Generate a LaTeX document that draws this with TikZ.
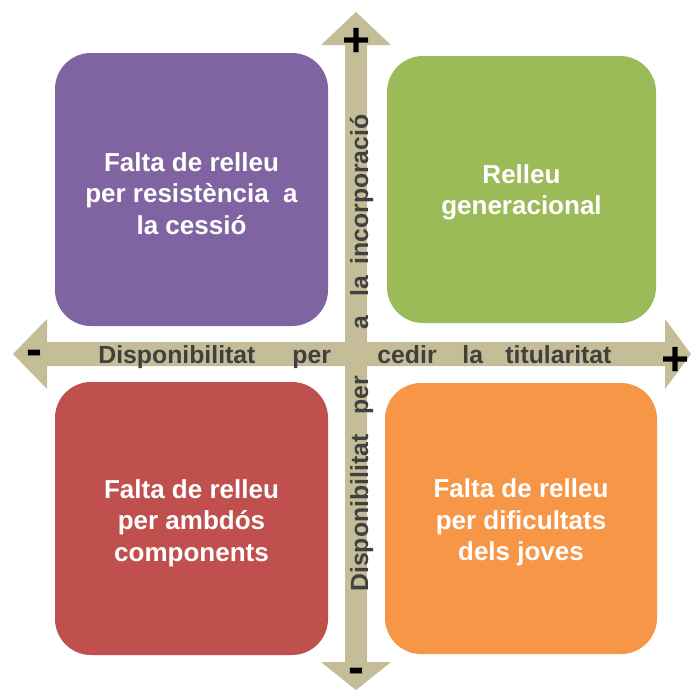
\documentclass[tikz,border=0pt]{standalone}
\usepackage{fontspec}
\setmainfont{Liberation Sans}
\definecolor{quadpurple}{HTML}{8064A2}
\definecolor{quadgreen}{HTML}{9BBB59}
\definecolor{quadred}{HTML}{C0504D}
\definecolor{quadorange}{HTML}{F79646}
\definecolor{axistan}{HTML}{C4BD97}
\definecolor{axistext}{HTML}{404040}
\begin{document}
\begin{tikzpicture}[x=0.5pt,y=-0.5pt,
  quad/.style={rounded corners=18pt,inner sep=0pt},
  quadtext/.style={inner sep=0pt,align=center,text=white,
    font=\fontsize{13}{15.8}\selectfont\bfseries},
  axisword/.style={inner sep=0pt,anchor=base west,text=axistext,
    font=\fontsize{12.4}{14}\selectfont\bfseries},
  sign/.style={inner sep=0pt,anchor=base,font=\fontsize{24}{24}\selectfont\bfseries}]
   \useasboundingbox (0,0) rectangle (691,691);
   % Axes
   \fill[axistan] (345,662) -- (345,45) -- (321,45) -- (356,12) -- (391,45) -- (367,45)
     -- (367,662) -- (391,662) -- (356,690) -- (321,662) -- cycle;
   \fill[axistan] (47,342) -- (665,342) -- (665,319) -- (691,354) -- (665,389) -- (665,366)
     -- (47,366) -- (47,389) -- (13,354) -- (47,319) -- cycle;
   % Quadrants
   \node[quad,fill=quadpurple,minimum width=136.5pt,minimum height=136.5pt] (resist) at (191.5,189.5) {};
   \node[quad,fill=quadgreen,minimum width=134.5pt,minimum height=133.5pt] (relleu) at (521.5,189.5) {};
   \node[quad,fill=quadred,minimum width=136.5pt,minimum height=136.5pt] (ambdos) at (191.5,518.5) {};
   \node[quad,fill=quadorange,minimum width=136pt,minimum height=135.5pt] (joves) at (521,518.5) {};
   \node[quadtext] at ([yshift=-2pt]resist.center) {Falta de relleu\\per resistència\ \ a\\la cessió};
   \node[quadtext] at ([yshift=-1.5pt]relleu.center) {Relleu\\generacional};
   \node[quadtext] at ([yshift=-2.2pt]ambdos.center) {Falta de relleu\\per ambdós\\components};
   \node[quadtext] at ([yshift=-2pt]joves.center) {Falta de relleu\\per dificultats\\dels joves};
   % Horizontal axis label
   \node[axisword] (h1) at (98,363) {Disponibilitat};
   \node[axisword] (h2) at (292,363) {per};
   \node[axisword] (h3) at (377,363) {cedir};
   \node[axisword] (h4) at (462,363) {la};
   \node[axisword] (h5) at (505,363) {titularitat};
   % Vertical axis label
   \node[axisword,rotate=90] (v1) at (368,592) {Disponibilitat};
   \node[axisword,rotate=90] (v2) at (368,415) {per};
   \node[axisword,rotate=90] (v3) at (368,330) {a};
   \node[axisword,rotate=90] (v4) at (368,297) {la};
   \node[axisword,rotate=90] (v5) at (368,265) {incorporació};
   % Signs
   \node[sign] (top) at (357,56) {+};
   \node[sign] (right) at (676,375) {+};
   \node[sign] (left) at (34,365) {-};
   \node[sign] (bottom) at (356,683) {-};
  \end{tikzpicture}
\end{document}
